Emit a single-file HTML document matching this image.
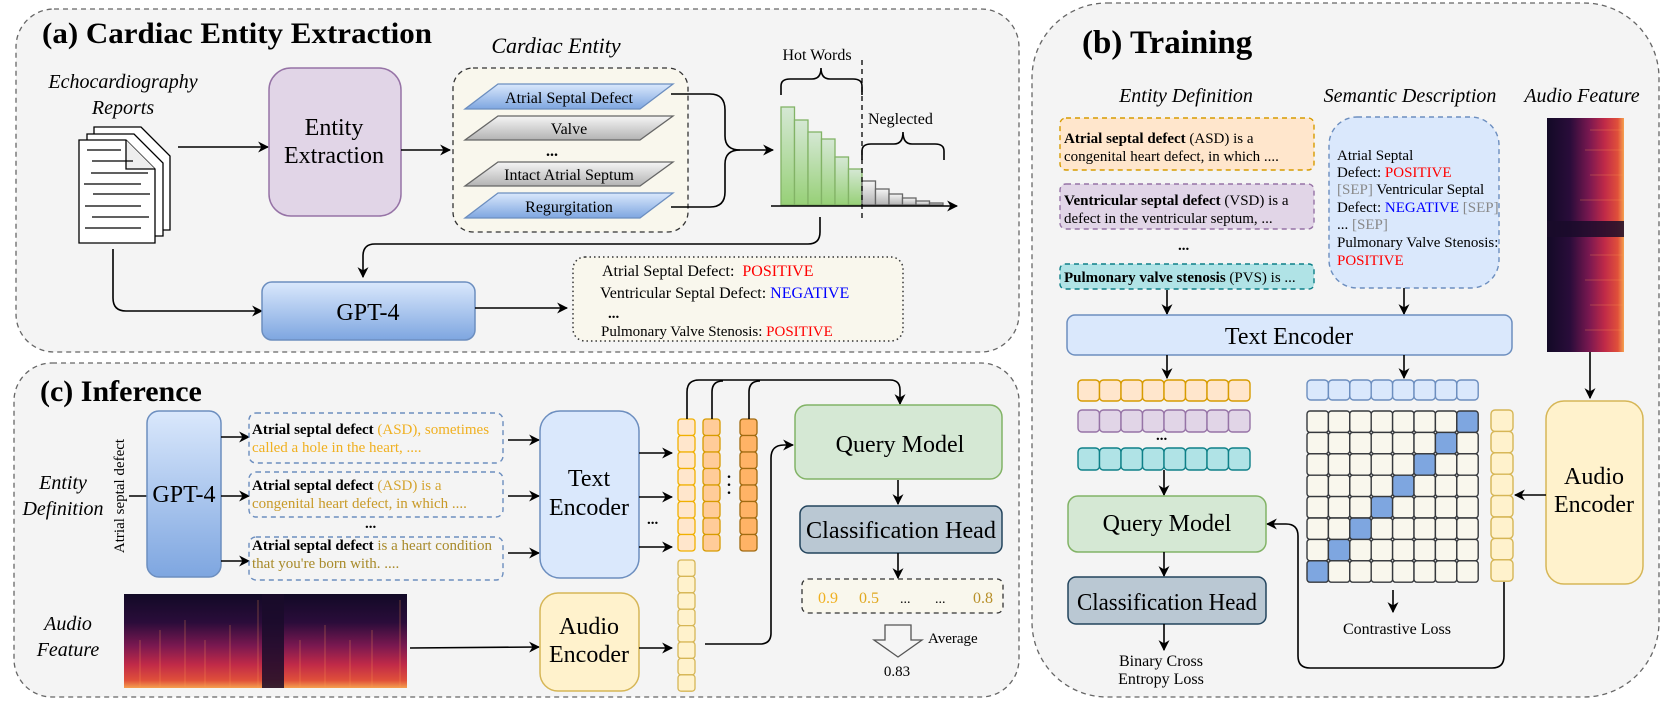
<!DOCTYPE html>
<html><head><meta charset="utf-8"><style>
html,body{margin:0;padding:0;background:#fff;}
svg{display:block;font-family:"Liberation Serif",serif;}
</style></head><body>
<svg width="1661" height="708" viewBox="0 0 1661 708" xmlns="http://www.w3.org/2000/svg">
<defs>
<marker id="ar" viewBox="0 0 10 10" refX="9" refY="5" markerWidth="11" markerHeight="11" markerUnits="userSpaceOnUse" orient="auto"><path d="M0,0 L10,5 L0,10 L3,5 z" fill="#000"/></marker>
<linearGradient id="gblue" x1="0" y1="0" x2="0" y2="1"><stop offset="0" stop-color="#dae8fc"/><stop offset="1" stop-color="#7ea6e0"/></linearGradient>
<linearGradient id="ggray" x1="0" y1="0" x2="0" y2="1"><stop offset="0" stop-color="#f5f5f5"/><stop offset="1" stop-color="#b3b3b3"/></linearGradient>
<linearGradient id="ggreen" x1="0" y1="0" x2="0" y2="1"><stop offset="0" stop-color="#d5e8d4"/><stop offset="1" stop-color="#97d077"/></linearGradient>
<linearGradient id="gspec" x1="0" y1="0" x2="0" y2="1"><stop offset="0" stop-color="#120a26"/><stop offset="0.3" stop-color="#2a0c3a"/><stop offset="0.55" stop-color="#7a1850"/><stop offset="0.75" stop-color="#c02a48"/><stop offset="0.92" stop-color="#e0503a"/><stop offset="1" stop-color="#f5a050"/></linearGradient>
<linearGradient id="gspec2" x1="0" y1="0" x2="1" y2="0"><stop offset="0" stop-color="#120a26"/><stop offset="0.3" stop-color="#2a0c3a"/><stop offset="0.55" stop-color="#7a1850"/><stop offset="0.75" stop-color="#c02a48"/><stop offset="0.92" stop-color="#e0503a"/><stop offset="1" stop-color="#f5a050"/></linearGradient>
</defs>

<!-- Panel a -->
<rect x="16" y="9" width="1003" height="343" rx="38" fill="#f4f4f4" stroke="#666" stroke-width="1.3" stroke-dasharray="5,4"/>
<text x="42" y="43" font-size="30" font-weight="bold" textLength="390" lengthAdjust="spacingAndGlyphs">(a) Cardiac Entity Extraction</text>
<text x="123" y="88" font-size="20" font-style="italic" text-anchor="middle">Echocardiography</text>
<text x="123" y="114" font-size="20" font-style="italic" text-anchor="middle">Reports</text>
<g stroke="#000" stroke-width="1.3" fill="#fff">
<path d="M94,127 H141 L170,156 V230 H94 Z"/>
<path d="M87,134 H134 L163,163 V236 H87 Z"/>
<path d="M79,140 H126 L155,169 V243 H79 Z"/>
<path d="M126,140 V169 H155" fill="#eee"/>
</g>
<g stroke="#000" stroke-width="1.3">
<line x1="87" y1="150" x2="121" y2="150"/><line x1="92" y1="161" x2="133" y2="161"/><line x1="91" y1="173" x2="148" y2="173"/><line x1="84" y1="184" x2="141" y2="184"/><line x1="93" y1="194" x2="150" y2="194"/><line x1="85" y1="206" x2="141" y2="206"/><line x1="92" y1="217" x2="149" y2="217"/><line x1="85" y1="228" x2="141" y2="228"/>
</g>
<line x1="178" y1="147" x2="268" y2="147" stroke="#000" stroke-width="1.6" marker-end="url(#ar)"/>
<rect x="269" y="68" width="132" height="148" rx="22" fill="#e1d5e7" stroke="#9673a6" stroke-width="1.5"/>
<text x="334" y="135" font-size="24" text-anchor="middle">Entity</text>
<text x="334" y="163" font-size="24" text-anchor="middle">Extraction</text>
<line x1="401" y1="150" x2="450" y2="150" stroke="#000" stroke-width="1.6" marker-end="url(#ar)"/>
<text x="556" y="53" font-size="22" font-style="italic" text-anchor="middle">Cardiac Entity</text>
<rect x="453" y="68" width="235" height="164" rx="20" fill="#f9f7ed" stroke="#333" stroke-width="1.3" stroke-dasharray="5,4"/>
<polygon points="498,84 673,84 640,109 465,109" fill="url(#gblue)" stroke="#6c8ebf" stroke-width="1.3"/>
<text x="569" y="103" font-size="16" text-anchor="middle">Atrial Septal Defect</text>
<polygon points="498,116 673,116 640,140 465,140" fill="url(#ggray)" stroke="#666" stroke-width="1.3"/>
<text x="569" y="134" font-size="16" text-anchor="middle">Valve</text>
<text x="546" y="156" font-size="16" font-weight="bold">...</text>
<polygon points="498,162 673,162 640,186 465,186" fill="url(#ggray)" stroke="#666" stroke-width="1.3"/>
<text x="569" y="180" font-size="16" text-anchor="middle">Intact Atrial Septum</text>
<polygon points="498,193 673,193 640,218 465,218" fill="url(#gblue)" stroke="#6c8ebf" stroke-width="1.3"/>
<text x="569" y="212" font-size="16" text-anchor="middle">Regurgitation</text>
<path d="M671,94 H710 Q725,94 725,110 V136 Q725,150 740,150 H773" fill="none" stroke="#000" stroke-width="1.6" marker-end="url(#ar)"/>
<path d="M671,207 H710 Q725,207 725,192 V164 Q725,150 740,150" fill="none" stroke="#000" stroke-width="1.6"/>
<g fill="url(#ggreen)" stroke="#82b366" stroke-width="1.3">
<rect x="781" y="107" width="13.5" height="98"/><rect x="794.5" y="120" width="13.5" height="85"/><rect x="808" y="132" width="13.5" height="73"/><rect x="821.5" y="139" width="13.5" height="66"/><rect x="835" y="157" width="13.5" height="48"/><rect x="848.5" y="169" width="13.5" height="36"/>
</g>
<g fill="url(#ggray)" stroke="#666" stroke-width="1.3">
<rect x="862" y="181" width="13.5" height="24"/><rect x="875.5" y="189" width="13.5" height="16"/><rect x="889" y="194" width="13.5" height="11"/><rect x="902.5" y="198" width="13.5" height="7"/><rect x="916" y="201" width="13.5" height="4"/><rect x="929.5" y="203" width="13.5" height="2"/>
</g>
<line x1="771" y1="206" x2="957" y2="206" stroke="#000" stroke-width="1.6" marker-end="url(#ar)"/>
<line x1="862" y1="60" x2="862" y2="222" stroke="#000" stroke-width="1.3" stroke-dasharray="5,4"/>
<text x="817" y="60" font-size="16" text-anchor="middle">Hot Words</text>
<path d="M781,95 V86 Q781,79 790,79 H812 Q821,79 821,68 Q821,79 830,79 H853 Q862,79 862,86 V95" fill="none" stroke="#000" stroke-width="1.6"/>
<text x="868" y="124" font-size="16">Neglected</text>
<path d="M862,160 V151 Q862,144 871,144 H894 Q903,144 903,132 Q903,144 912,144 H935 Q944,144 944,151 V160" fill="none" stroke="#000" stroke-width="1.6"/>
<path d="M820,217 V232 Q820,244 808,244 H375 Q363,244 363,256 V277" fill="none" stroke="#000" stroke-width="1.6" marker-end="url(#ar)"/>
<path d="M113,249 V298 Q113,311 126,311 H262" fill="none" stroke="#000" stroke-width="1.6" marker-end="url(#ar)"/>
<rect x="262" y="282" width="213" height="58" rx="10" fill="url(#gblue)" stroke="#6c8ebf" stroke-width="1.5"/>
<text x="368" y="320" font-size="24" text-anchor="middle">GPT-4</text>
<line x1="475" y1="308" x2="567" y2="308" stroke="#000" stroke-width="1.6" marker-end="url(#ar)"/>
<rect x="573" y="257" width="330" height="84" rx="12" fill="#f9f7ed" stroke="#333" stroke-width="1.5" stroke-dasharray="1.5,3"/>
<text x="602" y="276" font-size="16" xml:space="preserve">Atrial Septal Defect:  <tspan fill="#ff0000">POSITIVE</tspan></text>
<text x="600" y="298" font-size="16">Ventricular Septal Defect: <tspan fill="#0000ff">NEGATIVE</tspan></text>
<text x="608" y="318" font-size="15" font-weight="bold">...</text>
<text x="601" y="336" font-size="15">Pulmonary Valve Stenosis: <tspan fill="#ff0000">POSITIVE</tspan></text>

<!-- Panel c -->
<rect x="14" y="363" width="1005" height="334" rx="38" fill="#f4f4f4" stroke="#666" stroke-width="1.3" stroke-dasharray="5,4"/>
<text x="40" y="401" font-size="30" font-weight="bold">(c) Inference</text>
<text x="63" y="489" font-size="20" font-style="italic" text-anchor="middle">Entity</text>
<text x="63" y="515" font-size="20" font-style="italic" text-anchor="middle">Definition</text>
<text x="0" y="0" font-size="15" text-anchor="middle" transform="translate(124,496) rotate(-90)">Atrial septal defect</text>
<line x1="129" y1="496" x2="147" y2="496" stroke="#000" stroke-width="1.6"/>
<rect x="147" y="411" width="74" height="166" rx="12" fill="url(#gblue)" stroke="#6c8ebf" stroke-width="1.5"/>
<text x="184" y="502" font-size="24" text-anchor="middle">GPT-4</text>
<g stroke="#000" stroke-width="1.6" marker-end="url(#ar)">
<line x1="221" y1="437" x2="249" y2="437"/><line x1="221" y1="496" x2="249" y2="496"/><line x1="221" y1="561" x2="249" y2="561"/>
</g>
<g fill="none" stroke="#6c8ebf" stroke-width="1.4" stroke-dasharray="5,4">
<rect x="249" y="413" width="254" height="50" rx="7"/><rect x="249" y="472" width="254" height="45" rx="7"/><rect x="249" y="537" width="254" height="43" rx="7"/>
</g>
<text x="252" y="434" font-size="15"><tspan font-weight="bold">Atrial septal defect</tspan><tspan fill="#f0b020"> (ASD), sometimes</tspan></text>
<text x="252" y="452" font-size="15" fill="#f0b020">called a hole in the heart, ....</text>
<text x="252" y="490" font-size="15"><tspan font-weight="bold">Atrial septal defect</tspan><tspan fill="#d4a430"> (ASD) is a</tspan></text>
<text x="252" y="508" font-size="15" fill="#c89a28">congenital heart defect, in which ....</text>
<text x="365" y="528" font-size="15" font-weight="bold">...</text>
<text x="252" y="550" font-size="15"><tspan font-weight="bold">Atrial septal defect</tspan><tspan fill="#a88a2a"> is a heart condition</tspan></text>
<text x="252" y="568" font-size="15" fill="#a88a2a">that you're born with. ....</text>
<rect x="124" y="594" width="283" height="94" fill="url(#gspec)"/>
<rect x="262" y="594" width="22" height="94" fill="#1a0c2a" opacity="0.85"/>
<g stroke="#ff9a50" stroke-width="1" opacity="0.35">
<line x1="140" y1="640" x2="140" y2="688"/><line x1="160" y1="630" x2="160" y2="688"/><line x1="185" y1="620" x2="185" y2="688"/><line x1="205" y1="640" x2="205" y2="688"/><line x1="230" y1="625" x2="230" y2="688"/><line x1="258" y1="600" x2="258" y2="688"/><line x1="300" y1="640" x2="300" y2="688"/><line x1="325" y1="625" x2="325" y2="688"/><line x1="350" y1="640" x2="350" y2="688"/><line x1="372" y1="630" x2="372" y2="688"/><line x1="400" y1="600" x2="400" y2="688"/>
</g>
<text x="68" y="630" font-size="20" font-style="italic" text-anchor="middle">Audio</text>
<text x="68" y="656" font-size="20" font-style="italic" text-anchor="middle">Feature</text>
<line x1="410" y1="648" x2="539" y2="647" stroke="#000" stroke-width="1.6" marker-end="url(#ar)"/>
<g stroke="#000" stroke-width="1.6" marker-end="url(#ar)">
<line x1="508" y1="440" x2="539" y2="440"/><line x1="508" y1="496" x2="539" y2="496"/><line x1="508" y1="553" x2="539" y2="553"/>
</g>
<rect x="540" y="411" width="99" height="167" rx="20" fill="#dae8fc" stroke="#6c8ebf" stroke-width="1.5"/>
<text x="589" y="486" font-size="24" text-anchor="middle">Text</text>
<text x="589" y="515" font-size="24" text-anchor="middle">Encoder</text>
<g stroke="#000" stroke-width="1.6" marker-end="url(#ar)">
<line x1="639" y1="453" x2="672" y2="453"/><line x1="639" y1="497" x2="672" y2="497"/><line x1="639" y1="547" x2="672" y2="547"/>
</g>
<text x="647" y="524" font-size="15" font-weight="bold">...</text>
<rect x="540" y="593" width="99" height="98" rx="18" fill="#fff2cc" stroke="#d6b656" stroke-width="1.5"/>
<text x="589" y="634" font-size="24" text-anchor="middle">Audio</text>
<text x="589" y="662" font-size="24" text-anchor="middle">Encoder</text>
<line x1="639" y1="648" x2="672" y2="648" stroke="#000" stroke-width="1.6" marker-end="url(#ar)"/>
<g stroke-width="1.3">
<g fill="#ffe6cc" stroke="#f0b000">
<rect x="678" y="419" width="17" height="16.5" rx="3"/><rect x="678" y="435.5" width="17" height="16.5" rx="3"/><rect x="678" y="452" width="17" height="16.5" rx="3"/><rect x="678" y="468.5" width="17" height="16.5" rx="3"/><rect x="678" y="485" width="17" height="16.5" rx="3"/><rect x="678" y="501.5" width="17" height="16.5" rx="3"/><rect x="678" y="518" width="17" height="16.5" rx="3"/><rect x="678" y="534.5" width="17" height="16.5" rx="3"/>
</g>
<g fill="#ffcc99" stroke="#d79b00">
<rect x="703" y="419" width="17" height="16.5" rx="3"/><rect x="703" y="435.5" width="17" height="16.5" rx="3"/><rect x="703" y="452" width="17" height="16.5" rx="3"/><rect x="703" y="468.5" width="17" height="16.5" rx="3"/><rect x="703" y="485" width="17" height="16.5" rx="3"/><rect x="703" y="501.5" width="17" height="16.5" rx="3"/><rect x="703" y="518" width="17" height="16.5" rx="3"/><rect x="703" y="534.5" width="17" height="16.5" rx="3"/>
</g>
<g fill="#ffb366" stroke="#a06a10">
<rect x="740" y="419" width="17" height="16.5" rx="3"/><rect x="740" y="435.5" width="17" height="16.5" rx="3"/><rect x="740" y="452" width="17" height="16.5" rx="3"/><rect x="740" y="468.5" width="17" height="16.5" rx="3"/><rect x="740" y="485" width="17" height="16.5" rx="3"/><rect x="740" y="501.5" width="17" height="16.5" rx="3"/><rect x="740" y="518" width="17" height="16.5" rx="3"/><rect x="740" y="534.5" width="17" height="16.5" rx="3"/>
</g>
<g fill="#fff2cc" stroke="#d6b656">
<rect x="678" y="560" width="17" height="16.4" rx="3"/><rect x="678" y="576.4" width="17" height="16.4" rx="3"/><rect x="678" y="592.8" width="17" height="16.4" rx="3"/><rect x="678" y="609.2" width="17" height="16.4" rx="3"/><rect x="678" y="625.6" width="17" height="16.4" rx="3"/><rect x="678" y="642" width="17" height="16.4" rx="3"/><rect x="678" y="658.4" width="17" height="16.4" rx="3"/><rect x="678" y="674.8" width="17" height="16.4" rx="3"/>
</g>
</g>
<text x="729" y="478" font-size="16" font-weight="bold" text-anchor="middle">.</text>
<text x="729" y="486" font-size="16" font-weight="bold" text-anchor="middle">.</text>
<text x="729" y="494" font-size="16" font-weight="bold" text-anchor="middle">.</text>
<g fill="none" stroke="#000" stroke-width="1.6">
<path d="M687,419 V392 Q687,380 699,380 H890 Q900,380 900,390 V404" marker-end="url(#ar)"/>
<path d="M712,419 V392 Q712,381 723,381"/>
<path d="M749,419 V392 Q749,381 760,381"/>
<path d="M705,644 H760 Q771,644 771,633 V458 Q771,445 784,445 H793" marker-end="url(#ar)"/>
</g>
<rect x="795" y="405" width="207" height="74" rx="12" fill="#d5e8d4" stroke="#82b366" stroke-width="1.5"/>
<text x="900" y="452" font-size="24" text-anchor="middle">Query Model</text>
<line x1="898" y1="480" x2="898" y2="504" stroke="#000" stroke-width="1.6" marker-end="url(#ar)"/>
<rect x="800" y="506" width="202" height="47" rx="8" fill="#bac8d3" stroke="#23445d" stroke-width="1.5"/>
<text x="901" y="538" font-size="24" text-anchor="middle" textLength="190" lengthAdjust="spacingAndGlyphs">Classification Head</text>
<line x1="898" y1="553" x2="898" y2="578" stroke="#000" stroke-width="1.6" marker-end="url(#ar)"/>
<rect x="802" y="579" width="201" height="34" rx="6" fill="#f9f7ed" stroke="#333" stroke-width="1.3" stroke-dasharray="5,4"/>
<text x="818" y="603" font-size="16" fill="#f0b020">0.9</text>
<text x="859" y="603" font-size="16" fill="#e0a820">0.5</text>
<text x="900" y="603" font-size="14">...</text>
<text x="935" y="603" font-size="14">...</text>
<text x="973" y="603" font-size="16" fill="#b8902a">0.8</text>
<polygon points="885,625 911,625 911,640 922,640 898,657 874,640 885,640" fill="#f5f5f5" stroke="#555" stroke-width="1.3"/>
<text x="928" y="643" font-size="15">Average</text>
<text x="897" y="676" font-size="15" text-anchor="middle">0.83</text>

<!-- Panel b -->
<rect x="1032" y="3" width="627" height="694" rx="75" fill="#f4f4f4" stroke="#666" stroke-width="1.3" stroke-dasharray="5,4"/>
<text x="1082" y="53" font-size="33" font-weight="bold">(b) Training</text>
<text x="1186" y="102" font-size="20" font-style="italic" text-anchor="middle">Entity Definition</text>
<text x="1410" y="102" font-size="20" font-style="italic" text-anchor="middle">Semantic Description</text>
<text x="1582" y="102" font-size="20" font-style="italic" text-anchor="middle">Audio Feature</text>
<rect x="1060" y="118" width="254" height="52" rx="6" fill="#ffe6cc" stroke="#d79b00" stroke-width="1.4" stroke-dasharray="5,4"/>
<text x="1064" y="143" font-size="15"><tspan font-weight="bold">Atrial septal defect</tspan> (ASD) is a</text>
<text x="1064" y="161" font-size="15">congenital heart defect, in which ....</text>
<rect x="1060" y="184" width="254" height="45" rx="6" fill="#e1d5e7" stroke="#9673a6" stroke-width="1.4" stroke-dasharray="5,4"/>
<text x="1064" y="205" font-size="15"><tspan font-weight="bold">Ventricular septal defect</tspan> (VSD) is a</text>
<text x="1064" y="223" font-size="15">defect in the ventricular septum, ...</text>
<text x="1178" y="250" font-size="15" font-weight="bold">...</text>
<rect x="1060" y="264" width="254" height="25" rx="5" fill="#b0e3e6" stroke="#0e8088" stroke-width="1.4" stroke-dasharray="5,4"/>
<text x="1064" y="282" font-size="15"><tspan font-weight="bold">Pulmonary valve stenosis</tspan> (PVS) is ...</text>
<rect x="1329" y="117" width="170" height="171" rx="28" fill="#dae8fc" stroke="#6c8ebf" stroke-width="1.4" stroke-dasharray="5,4"/>
<g font-size="15">
<text x="1337" y="160">Atrial Septal</text>
<text x="1337" y="177">Defect:  <tspan fill="#ff0000">POSITIVE</tspan></text>
<text x="1337" y="194"><tspan fill="#888">[SEP]</tspan> Ventricular Septal</text>
<text x="1337" y="212">Defect: <tspan fill="#0000ff">NEGATIVE</tspan> <tspan fill="#888">[SEP]</tspan></text>
<text x="1337" y="229">... <tspan fill="#888">[SEP]</tspan></text>
<text x="1337" y="247">Pulmonary Valve Stenosis:</text>
<text x="1337" y="265" fill="#ff0000">POSITIVE</text>
</g>
<rect x="1547" y="118" width="77" height="234" fill="url(#gspec2)"/>
<rect x="1547" y="221" width="77" height="16" fill="#1a0c2a" opacity="0.85"/>
<g stroke="#ff9a50" stroke-width="1" opacity="0.3">
<line x1="1590" y1="130" x2="1624" y2="130"/><line x1="1585" y1="150" x2="1624" y2="150"/><line x1="1590" y1="175" x2="1624" y2="175"/><line x1="1580" y1="200" x2="1624" y2="200"/><line x1="1590" y1="255" x2="1624" y2="255"/><line x1="1585" y1="280" x2="1624" y2="280"/><line x1="1590" y1="305" x2="1624" y2="305"/><line x1="1585" y1="330" x2="1624" y2="330"/>
</g>
<line x1="1167" y1="290" x2="1167" y2="314" stroke="#000" stroke-width="1.6" marker-end="url(#ar)"/>
<line x1="1404" y1="288" x2="1404" y2="314" stroke="#000" stroke-width="1.6" marker-end="url(#ar)"/>
<rect x="1067" y="315" width="445" height="40" rx="8" fill="#dae8fc" stroke="#6c8ebf" stroke-width="1.5"/>
<text x="1289" y="344" font-size="24" text-anchor="middle">Text Encoder</text>
<line x1="1590" y1="352" x2="1590" y2="398" stroke="#000" stroke-width="1.6" marker-end="url(#ar)"/>
<line x1="1167" y1="355" x2="1167" y2="378" stroke="#000" stroke-width="1.6" marker-end="url(#ar)"/>
<line x1="1404" y1="355" x2="1404" y2="378" stroke="#000" stroke-width="1.6" marker-end="url(#ar)"/>
<g stroke-width="1.4">
<g fill="#ffe6cc" stroke="#d79b00">
<rect x="1078" y="380" width="21.5" height="21" rx="4"/><rect x="1099.5" y="380" width="21.5" height="21" rx="4"/><rect x="1121" y="380" width="21.5" height="21" rx="4"/><rect x="1142.5" y="380" width="21.5" height="21" rx="4"/><rect x="1164" y="380" width="21.5" height="21" rx="4"/><rect x="1185.5" y="380" width="21.5" height="21" rx="4"/><rect x="1207" y="380" width="21.5" height="21" rx="4"/><rect x="1228.5" y="380" width="21.5" height="21" rx="4"/>
</g>
<g fill="#e1d5e7" stroke="#9673a6">
<rect x="1078" y="410" width="21.5" height="22" rx="4"/><rect x="1099.5" y="410" width="21.5" height="22" rx="4"/><rect x="1121" y="410" width="21.5" height="22" rx="4"/><rect x="1142.5" y="410" width="21.5" height="22" rx="4"/><rect x="1164" y="410" width="21.5" height="22" rx="4"/><rect x="1185.5" y="410" width="21.5" height="22" rx="4"/><rect x="1207" y="410" width="21.5" height="22" rx="4"/><rect x="1228.5" y="410" width="21.5" height="22" rx="4"/>
</g>
<g fill="#b0e3e6" stroke="#0e8088">
<rect x="1078" y="448" width="21.5" height="22" rx="4"/><rect x="1099.5" y="448" width="21.5" height="22" rx="4"/><rect x="1121" y="448" width="21.5" height="22" rx="4"/><rect x="1142.5" y="448" width="21.5" height="22" rx="4"/><rect x="1164" y="448" width="21.5" height="22" rx="4"/><rect x="1185.5" y="448" width="21.5" height="22" rx="4"/><rect x="1207" y="448" width="21.5" height="22" rx="4"/><rect x="1228.5" y="448" width="21.5" height="22" rx="4"/>
</g>
<g fill="#dae8fc" stroke="#6c8ebf">
<rect x="1307" y="380" width="21.4" height="20" rx="4"/><rect x="1328.4" y="380" width="21.4" height="20" rx="4"/><rect x="1349.8" y="380" width="21.4" height="20" rx="4"/><rect x="1371.2" y="380" width="21.4" height="20" rx="4"/><rect x="1392.6" y="380" width="21.4" height="20" rx="4"/><rect x="1414" y="380" width="21.4" height="20" rx="4"/><rect x="1435.4" y="380" width="21.4" height="20" rx="4"/><rect x="1456.8" y="380" width="21.4" height="20" rx="4"/>
</g>
<g fill="#fff2cc" stroke="#d6b656">
<rect x="1491" y="410" width="22" height="21.4" rx="4"/><rect x="1491" y="431.4" width="22" height="21.4" rx="4"/><rect x="1491" y="452.8" width="22" height="21.4" rx="4"/><rect x="1491" y="474.2" width="22" height="21.4" rx="4"/><rect x="1491" y="495.6" width="22" height="21.4" rx="4"/><rect x="1491" y="517" width="22" height="21.4" rx="4"/><rect x="1491" y="538.4" width="22" height="21.4" rx="4"/><rect x="1491" y="559.8" width="22" height="21.4" rx="4"/>
</g>
</g>
<text x="1156" y="440" font-size="15" font-weight="bold">...</text>
<g id="mat" stroke="#36393d" stroke-width="1.4" fill="#f9f7ed"></g>
<script>
(function(){var g=document.getElementById('mat'),ns='http://www.w3.org/2000/svg',s=21.4;
for(var r=0;r<8;r++)for(var c=0;c<8;c++){var e=document.createElementNS(ns,'rect');
e.setAttribute('x',1307+c*s);e.setAttribute('y',411+r*s);e.setAttribute('width',s);e.setAttribute('height',s);e.setAttribute('rx',3);
if(c===7-r)e.setAttribute('fill','#7ea6e0');g.appendChild(e);}})();
</script>
<line x1="1393" y1="590" x2="1393" y2="612" stroke="#000" stroke-width="1.6" marker-end="url(#ar)"/>
<text x="1397" y="634" font-size="16" text-anchor="middle">Contrastive Loss</text>
<rect x="1546" y="401" width="97" height="183" rx="18" fill="#fff2cc" stroke="#d6b656" stroke-width="1.5"/>
<text x="1594" y="484" font-size="24" text-anchor="middle">Audio</text>
<text x="1594" y="512" font-size="24" text-anchor="middle">Encoder</text>
<line x1="1546" y1="495" x2="1515" y2="495" stroke="#000" stroke-width="1.6" marker-end="url(#ar)"/>
<path d="M1504,582 V656 Q1504,668 1492,668 H1310 Q1298,668 1298,656 V536 Q1298,524 1286,524 H1267" fill="none" stroke="#000" stroke-width="1.6" marker-end="url(#ar)"/>
<line x1="1164" y1="470" x2="1164" y2="495" stroke="#000" stroke-width="1.6" marker-end="url(#ar)"/>
<rect x="1068" y="496" width="198" height="56" rx="10" fill="#d5e8d4" stroke="#82b366" stroke-width="1.5"/>
<text x="1167" y="531" font-size="24" text-anchor="middle">Query Model</text>
<line x1="1164" y1="552" x2="1164" y2="576" stroke="#000" stroke-width="1.6" marker-end="url(#ar)"/>
<rect x="1068" y="577" width="198" height="47" rx="8" fill="#bac8d3" stroke="#23445d" stroke-width="1.5"/>
<text x="1167" y="610" font-size="24" text-anchor="middle" textLength="180" lengthAdjust="spacingAndGlyphs">Classification Head</text>
<line x1="1164" y1="624" x2="1164" y2="650" stroke="#000" stroke-width="1.6" marker-end="url(#ar)"/>
<text x="1161" y="666" font-size="16" text-anchor="middle">Binary Cross</text>
<text x="1161" y="684" font-size="16" text-anchor="middle">Entropy Loss</text>
</svg>
</body></html>
